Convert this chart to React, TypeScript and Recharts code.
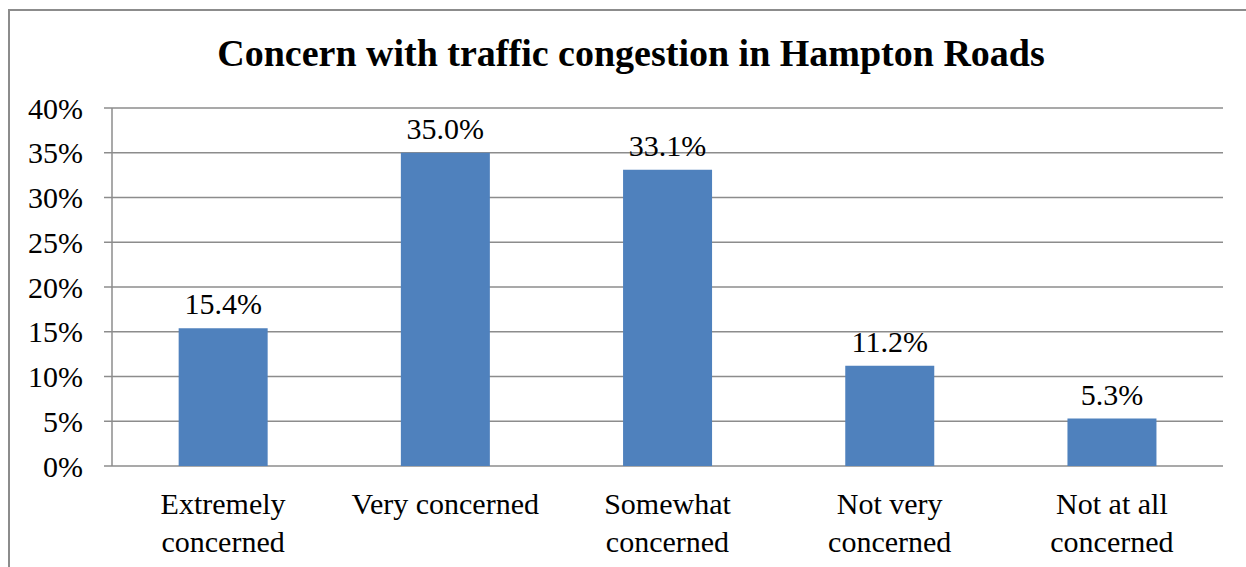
import React from 'react';
import { BarChart, Bar, XAxis, YAxis, CartesianGrid, LabelList } from 'recharts';

const categories = [
  'Extremely concerned',
  'Very concerned',
  'Somewhat concerned',
  'Not very concerned',
  'Not at all concerned',
];
// how each category label wraps under the axis
const categoryLines = [
  ['Extremely', 'concerned'],
  ['Very concerned'],
  ['Somewhat', 'concerned'],
  ['Not very', 'concerned'],
  ['Not at all', 'concerned'],
];
const shares = [15.4, 35.0, 33.1, 11.2, 5.3];
const yTicks = [0, 5, 10, 15, 20, 25, 30, 35, 40];
const edgeTicks = [0, 1, 2, 3, 4, 5];

const data = categories.map((name, i) => ({ name, value: shares[i] }));

const FONT = "'Liberation Serif', 'Times New Roman', serif";
const AXIS = '#8c8c8c';
const textStyle = { fontFamily: FONT, fontSize: 30, fill: '#000' };

const CategoryTick = ({ x, y, index, payload }: any) => {
  const lines = categoryLines[index] ?? [payload.value];
  return (
    <text x={x} y={y + 48} textAnchor="middle" style={textStyle}>
      {lines.map((line, i) => (
        <tspan key={i} x={x} dy={i === 0 ? 0 : 38}>
          {line}
        </tspan>
      ))}
    </text>
  );
};

const App: React.FC = () => {
  return (
    <div style={{ position: 'absolute', left: 0, top: 0, width: 1246, height: 567, overflow: 'hidden', background: '#fff', fontFamily: FONT }}>
      <div
        style={{
          position: 'absolute',
          left: 8,
          top: 9,
          width: 1400,
          height: 700,
          border: `2px solid ${AXIS}`,
          boxSizing: 'border-box',
        }}
      />
      <div
        style={{
          position: 'absolute',
          left: 16,
          top: 34,
          width: 1230,
          textAlign: 'center',
          fontFamily: FONT,
          fontWeight: 'bold',
          fontSize: 38,
          lineHeight: '38px',
          color: '#000',
        }}
      >
        Concern with traffic congestion in Hampton Roads
      </div>
      <div style={{ position: 'absolute', left: 0, top: 0 }}>
        <BarChart
          width={1246}
          height={567}
          data={data}
          margin={{ top: 108, right: 23, bottom: 11, left: 0 }}
          barCategoryGap="30%"
          style={{ fontFamily: FONT }}
        >
          <CartesianGrid vertical={false} stroke={AXIS} strokeWidth={1.5} />
          <XAxis
            xAxisId="edge"
            type="number"
            domain={[0, 5]}
            ticks={edgeTicks}
            allowDataOverflow
            tick={false}
            tickSize={9}
            tickLine={{ stroke: AXIS, strokeWidth: 1.5 }}
            axisLine={{ stroke: AXIS, strokeWidth: 1.5 }}
            height={0}
          />
          <XAxis
            dataKey="name"
            tick={<CategoryTick />}
            tickLine={false}
            axisLine={false}
            tickSize={0}
            tickMargin={0}
            interval={0}
            height={90}
          />
          <YAxis
            domain={[0, 40]}
            ticks={yTicks}
            tickFormatter={(v) => `${v}%`}
            tickSize={8}
            tickMargin={21}
            tickLine={{ stroke: AXIS, strokeWidth: 1.5 }}
            axisLine={{ stroke: AXIS, strokeWidth: 1.5 }}
            tick={{ ...textStyle, style: textStyle }}
            width={112}
          />
          <Bar dataKey="value" fill="#4F81BD" isAnimationActive={false}>
            <LabelList
              dataKey="value"
              position="top"
              offset={14}
              formatter={(v: any) => `${Number(v).toFixed(1)}%`}
              style={textStyle}
            />
          </Bar>
        </BarChart>
      </div>
    </div>
  );
};

export default App;
